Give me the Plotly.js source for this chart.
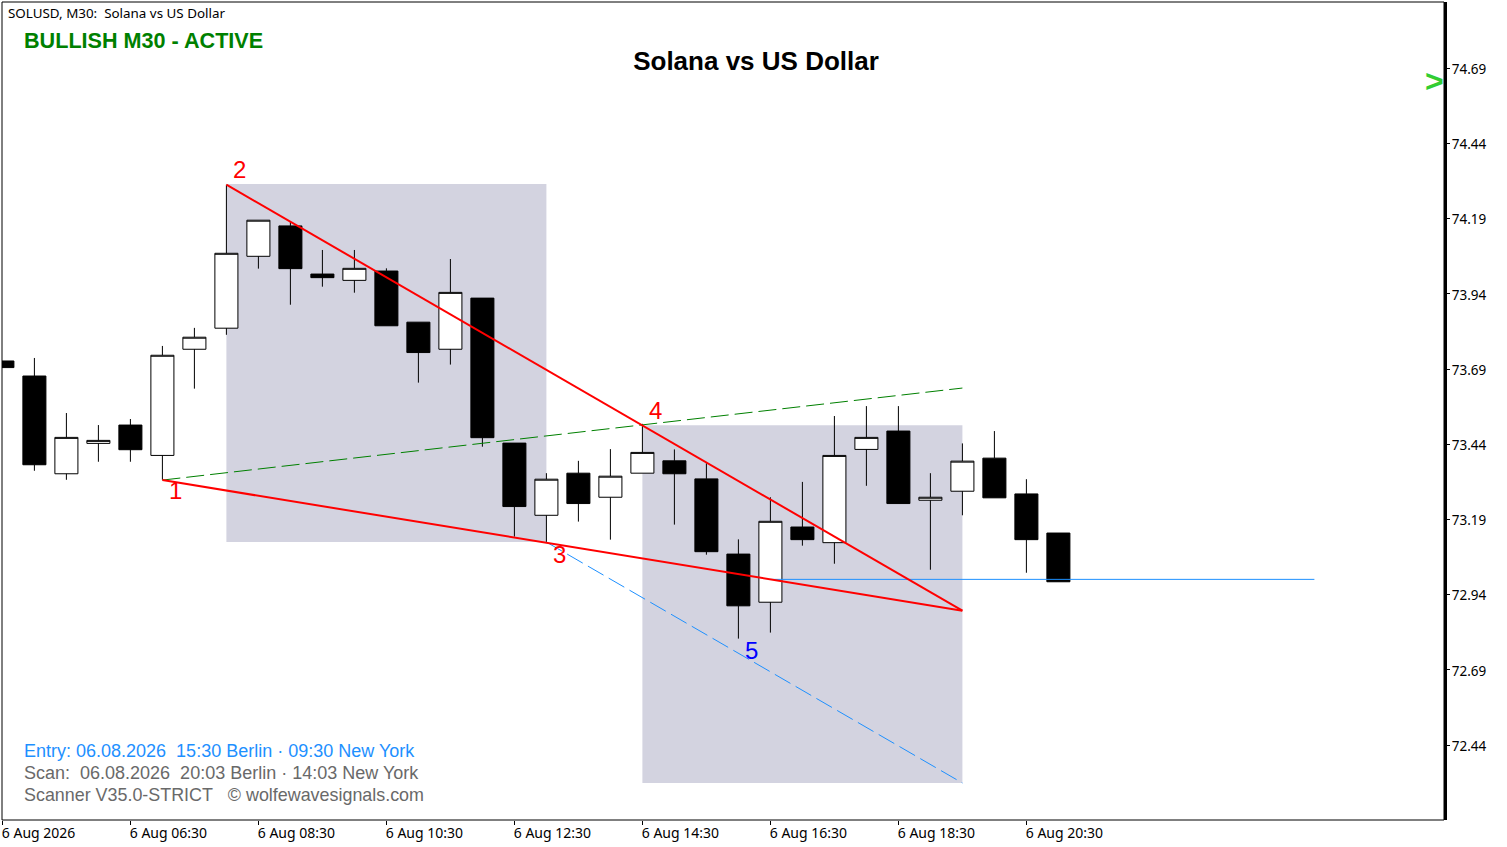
<!DOCTYPE html>
<html>
<head>
<meta charset="utf-8">
<script src="https://cdn.plot.ly/plotly-3.0.1.min.js"></script>
<style>
    html, body { margin: 0; padding: 0; background: #fff; overflow: hidden; }
</style>
</head>
<body>
<div id="chart-container" style="width:1507px;height:847px"></div>
<script>
// bars are numbered from the left edge of the chart, one every 30 minutes
const barIndex = [0,1,2,3,4,5,6,7,8,9,10,11,12,13,14,15,16,17,18,19,20,21,22,23,24,25,26,27,28,29,30,31,32,33]
const opens  = [73.717,73.667,73.342,73.443,73.504,73.403,73.756,73.826,74.065,74.166,74.006,73.985,74.016,73.846,73.756,73.926,73.444,73.204,73.344,73.264,73.344,73.385,73.325,73.075,72.915,73.165,73.113,73.423,73.484,73.254,73.284,73.394,73.275,73.145]
const highs  = [73.717,73.727,73.544,73.504,73.524,73.767,73.827,74.303,74.185,74.180,74.086,74.086,74.025,73.846,74.056,73.926,73.444,73.344,73.385,73.424,73.508,73.423,73.377,73.124,73.264,73.315,73.534,73.567,73.567,73.344,73.443,73.484,73.324,73.145]
const lows   = [73.695,73.352,73.322,73.382,73.382,73.322,73.625,73.804,74.024,73.904,73.964,73.944,73.834,73.645,73.705,73.432,73.133,73.113,73.183,73.123,73.344,73.173,73.073,72.794,72.814,73.103,73.043,73.302,73.243,73.023,73.204,73.262,73.013,72.983]
const closes = [73.695,73.372,73.463,73.453,73.422,73.736,73.796,74.075,74.185,74.024,73.994,74.025,73.834,73.745,73.945,73.462,73.233,73.324,73.243,73.334,73.413,73.342,73.083,72.903,73.184,73.123,73.403,73.463,73.243,73.264,73.384,73.262,73.123,72.983]

const xTickVals = [0,4,8,12,16,20,24,28,32]
const xTickText = ['6 Aug 2026\u00a0','6 Aug 06:30','6 Aug 08:30','6 Aug 10:30','6 Aug 12:30','6 Aug 14:30','6 Aug 16:30','6 Aug 18:30','6 Aug 20:30']
const yTickVals = [74.69,74.44,74.19,73.94,73.69,73.44,73.19,72.94,72.69,72.44]
const yTickText = ['74.69','74.44','74.19','73.94','73.69','73.44','73.19','72.94','72.69','72.44']

// wolfe wave lines
const upperX = [7, 30],  upperY = [74.303, 72.887]
const lowerX = [5, 30],  lowerY = [73.321, 72.887]
const greenX = [5, 30],  greenY = [73.321, 73.627]
const blueX  = [17, 30], blueY  = [73.115, 72.314]
const levelX = [24, 41], levelY = [72.991, 72.991]

// shaded zones
const zoneX0 = [7, 20],  zoneX1 = [17, 30]
const zoneTop = [74.305, 73.503], zoneBottom = [73.115, 72.314]

// point labels
const waveText = ['1', '2', '3', '4', '5']
const waveX = [5.41, 7.41, 17.41, 20.41, 23.41]
const waveY = [73.285, 74.352, 73.072, 73.551, 72.753]
const waveColor = ['#ff0000', '#ff0000', '#ff0000', '#ff0000', '#0000ff']

const symbolLine = 'SOLUSD, M30:\u00a0\u00a0Solana vs US Dollar'
const statusLine = 'BULLISH M30 - ACTIVE'
const titleLine = 'Solana vs US Dollar'
const entryLine = 'Entry: 06.08.2026\u00a0\u00a015:30 Berlin · 09:30 New York'
const scanLine = 'Scan:\u00a0\u00a006.08.2026\u00a0\u00a020:03 Berlin · 14:03 New York'
const footLine = 'Scanner V35.0-STRICT\u00a0\u00a0\u00a0© wolfewavesignals.com'

const TAHOMA = '"Noto Sans", sans-serif'
const ARIAL = '"Liberation Sans", Arial, sans-serif'

function waveLine(x, y, color, width, dash) {
    return {
        x: x,
        y: y,
        type: 'scatter',
        mode: 'lines',
        hoverinfo: 'skip',
        line: { color: color, width: width, dash: dash }
    }
}

function paperText(text, x, y, size, color, bold) {
    return {
        xref: 'paper',
        yref: 'paper',
        x: (x - 4) / 1442,
        y: (820 - y) / 818,
        xanchor: 'left',
        yanchor: 'middle',
        text: bold ? '<b>' + text + '</b>' : text,
        showarrow: false,
        font: { family: size < 14 ? TAHOMA : ARIAL, size: size, color: color }
    }
}

const data = [
    {
        x: barIndex,
        open: opens,
        high: highs,
        low: lows,
        close: closes,
        type: 'candlestick',
        hoverinfo: 'skip',
        increasing: { line: { color: '#000000', width: 1 }, fillcolor: '#ffffff' },
        decreasing: { line: { color: '#000000', width: 1 }, fillcolor: '#000000' }
    },
    waveLine(levelX, levelY, '#1e90ff', 1, 'solid'),
    waveLine(greenX, greenY, '#008000', 1, '18px,6px'),
    waveLine(blueX, blueY, '#1e90ff', 1, '18px,6px'),
    waveLine(upperX, upperY, '#ff0000', 2, 'solid'),
    waveLine(lowerX, lowerY, '#ff0000', 2, 'solid')
]

const zones = zoneX0.map((x0, i) => ({
    type: 'rect',
    layer: 'below',
    x0: x0,
    x1: zoneX1[i],
    y0: zoneBottom[i],
    y1: zoneTop[i],
    fillcolor: '#d3d3e0',
    line: { width: 0 }
}))

const frame = {
    type: 'rect',
    xref: 'paper',
    yref: 'paper',
    x0: 0,
    x1: 1,
    y0: 0,
    y1: 1,
    line: { color: '#000000', width: 1 }
}

const waveLabels = waveText.map((t, i) => ({
    x: waveX[i],
    y: waveY[i],
    text: t,
    showarrow: false,
    xanchor: 'center',
    yanchor: 'middle',
    font: { family: ARIAL, size: 24, color: waveColor[i] }
}))

const layout = {
    width: 1507,
    height: 847,
    margin: { l: 2, r: 63, t: 2, b: 27 },
    paper_bgcolor: '#ffffff',
    plot_bgcolor: '#ffffff',
    showlegend: false,
    dragmode: false,
    boxgap: 0.28,
    boxgroupgap: 0,
    title: {
        text: '<b>' + titleLine + '</b>',
        x: 756 / 1507,
        xanchor: 'center',
        y: 1 - 61 / 847,
        yanchor: 'middle',
        font: { family: ARIAL, size: 26, color: '#000000' }
    },
    xaxis: {
        type: 'linear',
        range: [-0.0125, 45.05],
        rangeslider: { visible: false },
        tickmode: 'array',
        tickvals: xTickVals,
        ticktext: xTickText,
        ticks: 'outside',
        ticklen: 4,
        tickwidth: 1,
        tickcolor: '#000000',
        ticklabelshift: 38,
        ticklabelstandoff: -4,
        showgrid: false,
        zeroline: false,
        showline: false,
        tickangle: 0,
        tickfont: { family: TAHOMA, size: 14, color: '#000000' }
    },
    yaxis: {
        side: 'right',
        range: [72.191, 74.9104],
        tickmode: 'array',
        tickvals: yTickVals,
        ticktext: yTickText,
        ticks: 'outside',
        ticklen: 3,
        tickwidth: 1,
        ticklabelstandoff: -1,
        ticklabelshift: 1,
        tickcolor: '#000000',
        showgrid: false,
        zeroline: false,
        showline: true,
        linecolor: '#000000',
        linewidth: 3,
        tickfont: { family: TAHOMA, size: 13.5, color: '#000000' }
    },
    shapes: zones.concat([frame]),
    annotations: waveLabels.concat([
        paperText(symbolLine, 8, 13, 13.4, '#000000', false),
        paperText(statusLine, 24, 41, 21.6, '#008000', true),
        paperText(entryLine, 24, 751, 18, '#1e90ff', false),
        paperText(scanLine, 24, 773, 18, '#696969', false),
        paperText(footLine, 24, 795, 17.9, '#696969', false),
        paperText('>', 1425, 81, 32, '#32cd32', true)
    ])
}

Plotly.newPlot('chart-container', data, layout, { displayModeBar: false, staticPlot: true })
</script>
</body>
</html>
